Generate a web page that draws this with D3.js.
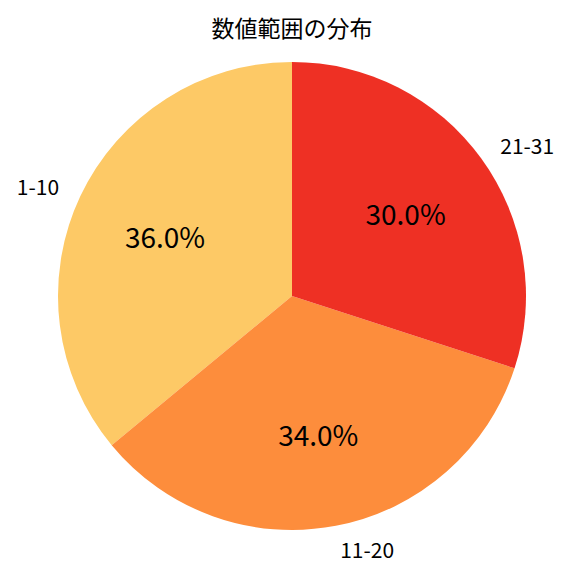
<!DOCTYPE html>
<html><head><meta charset="utf-8">
<script src="https://cdn.jsdelivr.net/npm/d3@7"></script>
<style>body{margin:0;background:#fff}</style>
</head><body>
<svg id="c" width="576" height="576"></svg>
<script>
const categories = ["1-10", "11-20", "21-31"];
const values = [36.0, 34.0, 30.0];
const colors = ["#FDC966", "#FD8D3C", "#EE3024"];
const title = "数値範囲の分布";

const svg = d3.select("#c");
const font = "'Noto Sans CJK JP', 'Noto Sans', sans-serif";
const cx = 292, cy = 296, r = 234;
svg.append("rect").attr("width",576).attr("height",576).attr("fill","#fff");
svg.append("text").attr("x",292).attr("y",27).attr("text-anchor","middle")
  .attr("dominant-baseline","central").attr("font-family",font).attr("font-size",23)
  .text(title);

const data = categories.map((c,i)=>({cat:c,val:values[i],color:colors[i]}));
// matplotlib: start at 90deg, counterclockwise. d3 angles: clockwise from top.
const pie = d3.pie().value(d=>d.val).sort(null).startAngle(0).endAngle(-2*Math.PI);
const arcs = pie(data);
const arc = d3.arc().innerRadius(0).outerRadius(r);
const g = svg.append("g").attr("transform",`translate(${cx},${cy})`);
g.selectAll("path").data(arcs).join("path").attr("d",arc).attr("fill",d=>d.data.color);

function pos(d, f){
  const a = (d.startAngle + d.endAngle)/2; // d3 angle, clockwise from top
  return [Math.sin(a)*r*f, -Math.cos(a)*r*f];
}
g.selectAll("text.pct").data(arcs).join("text").attr("class","pct")
  .attr("x",d=>pos(d,0.6)[0]).attr("y",d=>pos(d,0.6)[1])
  .attr("text-anchor","middle").attr("dominant-baseline","central")
  .attr("font-family",font).attr("font-size",28)
  .text(d=>d.data.val.toFixed(1)+"%");
g.selectAll("text.lab").data(arcs).join("text").attr("class","lab")
  .attr("x",d=>pos(d,1.1)[0]).attr("y",d=>pos(d,1.1)[1])
  .attr("text-anchor",d=>pos(d,1.1)[0]<0?"end":"start").attr("dominant-baseline","central")
  .attr("font-family",font).attr("font-size",21)
  .text(d=>d.data.cat);
</script>
</body></html>
